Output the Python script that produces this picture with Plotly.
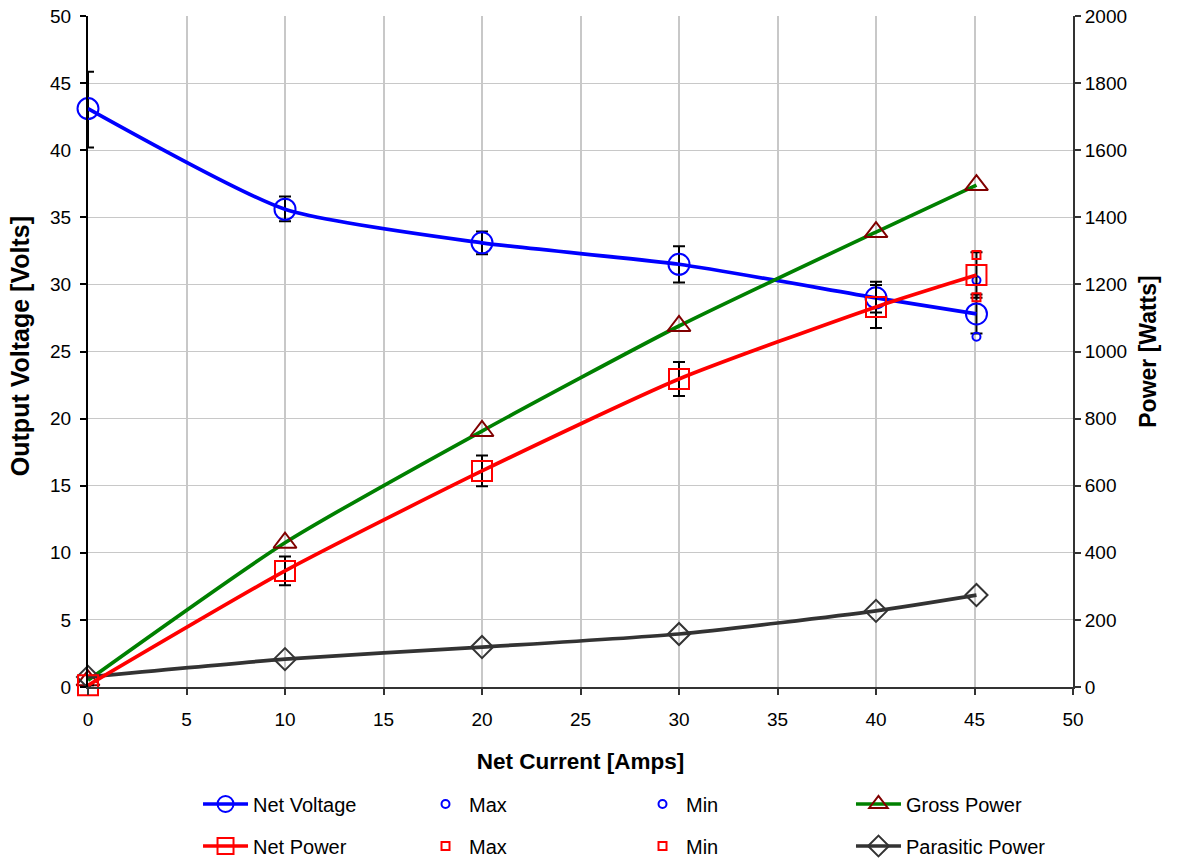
import plotly.graph_objects as go

current = [0, 10, 20, 30, 40, 45.1]
net_voltage = [43.1, 35.6, 33.1, 31.5, 29.0, 27.8]
volt_err_plus = [2.75, 0.95, 0.85, 1.35, 1.2, 1.45]
volt_err_minus = [2.9, 0.9, 0.85, 1.35, 1.1, 1.45]
net_power = [5, 346, 644, 918, 1133, 1228]
power_err_plus = [0, 43, 46, 51, 65, 68]
power_err_minus = [0, 43, 46, 51, 63, 68]
gross_power = [20, 430, 763, 1076, 1356, 1496]
parasitic_power = [30, 83, 119, 158, 227, 274]

max_min_current = [45.1]
volt_max = [30.3]
volt_min = [26.1]
power_max = [1288]
power_min = [1162]

x_ticks = list(range(0, 51, 5))
FONT = "Liberation Sans, Arial, sans-serif"
SMOOTH = 0.6

fig = go.Figure()

# Power series (right axis)
fig.add_trace(go.Scatter(
    x=current, y=gross_power, yaxis="y2", name="Gross Power", cliponaxis=False,
    mode="lines+markers", line=dict(color="#008000", width=3.7, shape="spline", smoothing=SMOOTH),
    marker=dict(symbol="triangle-up-open", size=20, color="#800000", line=dict(width=2)),
    legend="legend4", legendgroup="r1", legendrank=1))
fig.add_trace(go.Scatter(
    x=current, y=parasitic_power, yaxis="y2", name="Parasitic Power", cliponaxis=False,
    mode="lines+markers", line=dict(color="#333333", width=3.7, shape="spline", smoothing=SMOOTH),
    marker=dict(symbol="diamond-open", size=17, color="#333333", line=dict(width=2)),
    legend="legend4", legendgroup="r2", legendrank=2))
fig.add_trace(go.Scatter(
    x=current, y=net_power, yaxis="y2", name="Net Power", cliponaxis=False,
    mode="lines+markers", line=dict(color="#ff0000", width=3.7, shape="spline", smoothing=SMOOTH),
    marker=dict(symbol="square-open", size=20, color="#ff0000", line=dict(width=2)),
    error_y=dict(type="data", array=power_err_plus, arrayminus=power_err_minus,
                 color="black", thickness=2, width=6),
    legend="legend", legendgroup="r2", legendrank=2))
fig.add_trace(go.Scatter(
    x=max_min_current, y=power_max, yaxis="y2", name="Max", mode="markers", cliponaxis=False,
    marker=dict(symbol="square-open", size=8, color="#ff0000", line=dict(width=2)),
    legend="legend2", legendgroup="r2", legendrank=2))
fig.add_trace(go.Scatter(
    x=max_min_current, y=power_min, yaxis="y2", name="Min", mode="markers", cliponaxis=False,
    marker=dict(symbol="square-open", size=8, color="#ff0000", line=dict(width=2)),
    legend="legend3", legendgroup="r2", legendrank=2))

# Voltage series (left axis)
fig.add_trace(go.Scatter(
    x=current, y=net_voltage, name="Net Voltage", cliponaxis=False,
    mode="lines+markers", line=dict(color="#0000ff", width=3.7, shape="spline", smoothing=SMOOTH),
    marker=dict(symbol="circle-open", size=21, color="#0000ff", line=dict(width=2)),
    error_y=dict(type="data", array=volt_err_plus, arrayminus=volt_err_minus,
                 color="black", thickness=2, width=6),
    legend="legend", legendgroup="r1", legendrank=1))
fig.add_trace(go.Scatter(
    x=max_min_current, y=volt_max, name="Max", mode="markers", cliponaxis=False,
    marker=dict(symbol="circle-open", size=8, color="#0000ff", line=dict(width=2)),
    legend="legend2", legendgroup="r1", legendrank=1))
fig.add_trace(go.Scatter(
    x=max_min_current, y=volt_min, name="Min", mode="markers", cliponaxis=False,
    marker=dict(symbol="circle-open", size=8, color="#0000ff", line=dict(width=2)),
    legend="legend3", legendgroup="r1", legendrank=1))

leg_common = dict(orientation="v", yanchor="top", y=-0.1453, xanchor="left",
                  font=dict(family=FONT, size=20, color="black"),
                  bgcolor="rgba(0,0,0,0)", traceorder="grouped", tracegroupgap=13)

# Figure is taller than the window (page scrolling hidden) so the legend fits
FIG_H = 890

fig.update_layout(
    width=1181, height=FIG_H,
    margin=dict(l=88, r=108, t=16, b=FIG_H - 687),
    paper_bgcolor="white", plot_bgcolor="white",
    font=dict(family=FONT, size=19, color="black"),
    showlegend=True,
    xaxis=dict(range=[0, 50], tickvals=x_ticks, ticks="outside", ticklen=6,
               tickwidth=2, tickcolor="#333333", automargin=False, ticklabelstandoff=8,
               showline=True, linecolor="#333333", linewidth=2,
               showgrid=True, gridcolor="#c8c8c8", gridwidth=2, zeroline=False,
               title=dict(text="<b>Net Current [Amps]</b>", font=dict(size=22.5), standoff=24)),
    yaxis=dict(range=[0, 50], dtick=5, ticks="outside", ticklen=6, tickwidth=2,
               tickcolor="black", showline=True, linecolor="black", linewidth=2,
               automargin=False, ticklabelstandoff=5,
               showgrid=True, gridcolor="#c8c8c8", gridwidth=1, zeroline=False),
    yaxis2=dict(range=[0, 2000], dtick=200, overlaying="y", side="right",
                ticks="outside", ticklen=6, tickwidth=2, tickcolor="#333333",
                showline=True, linecolor="#333333", linewidth=2, automargin=False,
                showgrid=False, zeroline=False,
                title=dict(text="<b>Power [Watts]</b>", font=dict(size=23), standoff=14)),
    yaxis3=dict(range=[0, 50], dtick=5, overlaying="y", side="left", ticks="inside",
                ticklen=6, tickwidth=2, tickcolor="black", showticklabels=False,
                showgrid=False, zeroline=False, showline=False, automargin=False),
    yaxis4=dict(range=[0, 2000], dtick=200, overlaying="y", side="right", ticks="inside",
                ticklen=6, tickwidth=2, tickcolor="#333333", showticklabels=False,
                showgrid=False, zeroline=False, showline=False, automargin=False),
    legend=dict(leg_common, x=0.1117, itemwidth=45),
    legend2=dict(leg_common, x=0.3391, itemwidth=37),
    legend3=dict(leg_common, x=0.5594, itemwidth=37),
    legend4=dict(leg_common, x=0.7746, itemwidth=45),
    annotations=[dict(text="<b>Output Voltage [Volts]</b>", textangle=-90,
                      xref="paper", yref="paper", x=-0.069, y=0.508,
                      xanchor="center", yanchor="middle", showarrow=False,
                      font=dict(family=FONT, size=25, color="black"))],
)

fig.write_html(
    "out.html",
    config={"displayModeBar": False},
    post_script=("document.documentElement.style.overflow='hidden';"
                 "document.body.style.overflow='hidden';"
                 "document.body.style.margin='0px';"),
)
